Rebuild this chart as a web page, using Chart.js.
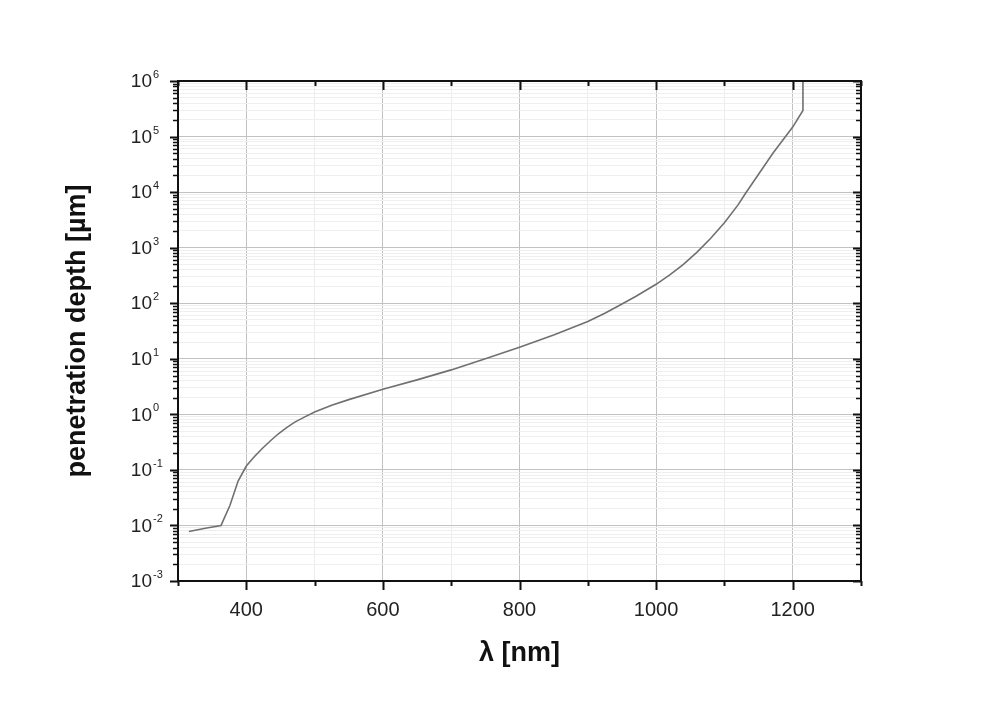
<!DOCTYPE html>
<html>
<head>
<meta charset="utf-8">
<script src="https://cdn.jsdelivr.net/npm/chart.js@4.4.1/dist/chart.umd.min.js"></script>
<style>
  html, body { margin: 0; padding: 0; background: #ffffff; }
  #wrap { width: 1004px; height: 716px; position: relative; }
</style>
</head>
<body>
<div id="wrap"><canvas id="c"></canvas></div>
<script>
// ---- data ----
const wavelengthNm = [316, 340, 363, 376, 388, 400, 412, 423, 435, 447, 459, 471, 485, 500, 525, 550, 600, 650, 700, 750, 800, 850, 900, 925, 946, 970, 1000, 1020, 1040, 1060, 1080, 1100, 1120, 1131, 1171, 1200, 1215, 1215];
const penetrationDepthUm = [0.00776, 0.00891, 0.0100, 0.0229, 0.0631, 0.1175, 0.174, 0.240, 0.331, 0.447, 0.575, 0.724, 0.891, 1.10, 1.46, 1.84, 2.82, 4.17, 6.31, 10.0, 16.2, 26.9, 46.8, 66.1, 91, 132, 219, 324, 501, 832, 1479, 2818, 5888, 9550, 50100, 148000, 295000, 1000000];

const xMin = 300, xMax = 1300, xStep = 100, xLabelEvery = 200;
const yDecadeExponents = [-3, -2, -1, 0, 1, 2, 3, 4, 5, 6];
const yMinorMultipliers = [2, 3, 4, 5, 6, 7, 8, 9];

const xTitle = 'λ [nm]';
const yTitle = 'penetration depth [µm]';

const FONT = "'Liberation Sans', Arial, Helvetica, sans-serif";

function isDecade(v) {
  const l = Math.log10(v);
  return Math.abs(l - Math.round(l)) < 1e-9;
}

const yTickValues = [];
yDecadeExponents.forEach((e, i) => {
  yTickValues.push(Math.pow(10, e));
  if (i < yDecadeExponents.length - 1) {
    yMinorMultipliers.forEach(m => yTickValues.push(m * Math.pow(10, e)));
  }
});

const framePlugin = {
  id: 'frame',
  afterDraw(chart) {
    const ctx = chart.ctx;
    const a = chart.chartArea;
    const xs = chart.scales.x, ys = chart.scales.y;
    ctx.save();
    ctx.strokeStyle = '#111';
    ctx.lineCap = 'butt';
    // x ticks: bottom outward, top inward
    xs.ticks.forEach(t => {
      const px = Math.round(xs.getPixelForValue(t.value)) + 0.5;
      const major = t.value % xLabelEvery === 0;
      const len = major ? 9 : 5;
      ctx.lineWidth = 2;
      ctx.beginPath();
      ctx.moveTo(px, a.bottom); ctx.lineTo(px, a.bottom + len);
      ctx.moveTo(px, a.top); ctx.lineTo(px, a.top + len);
      ctx.stroke();
    });
    // y ticks: left outward, right inward
    ys.ticks.forEach(t => {
      const py = Math.round(ys.getPixelForValue(t.value)) + 0.5;
      const major = isDecade(t.value);
      const len = major ? 8 : 5;
      ctx.lineWidth = major ? 2 : 1.5;
      ctx.beginPath();
      ctx.moveTo(a.left, py); ctx.lineTo(a.left - len, py);
      ctx.moveTo(a.right, py); ctx.lineTo(a.right - len, py);
      ctx.stroke();
    });
    // frame
    ctx.lineWidth = 2;
    ctx.strokeRect(a.left, a.top, a.right - a.left, a.bottom - a.top);
    // y tick labels 10^n
    ctx.fillStyle = '#222';
    yDecadeExponents.forEach(e => {
      const py = ys.getPixelForValue(Math.pow(10, e));
      const baseRight = a.left - 26;
      ctx.font = '19px ' + FONT;
      ctx.textAlign = 'right';
      ctx.textBaseline = 'middle';
      ctx.fillText('10', baseRight, py + 1);
      ctx.font = '11px ' + FONT;
      ctx.textAlign = 'left';
      ctx.fillText(e < 0 ? '-' + Math.abs(e) : String(e), baseRight + 1, py - 6);
    });
    ctx.restore();
  }
};

new Chart(document.getElementById('c'), {
  type: 'line',
  data: {
    datasets: [{
      data: wavelengthNm.map((x, i) => ({ x: x, y: penetrationDepthUm[i] })),
      borderColor: '#707070',
      borderWidth: 1.6,
      pointRadius: 0,
      fill: false,
      tension: 0
    }]
  },
  options: {
    responsive: true,
    maintainAspectRatio: false,
    animation: false,
    layout: { padding: { left: 57, right: 143, top: 81, bottom: 42 } },
    plugins: { legend: { display: false }, tooltip: { enabled: false } },
    scales: {
      x: {
        type: 'linear',
        min: xMin, max: xMax,
        afterFit(s) { s.height = 93; },
        ticks: {
          stepSize: xStep,
          autoSkip: false,
          maxRotation: 0,
          padding: 17,
          color: '#222',
          font: { size: 20, family: FONT },
          callback: v => (v % xLabelEvery === 0 ? String(v) : '')
        },
        grid: {
          drawTicks: false,
          color: c => (c.tick && c.tick.value % xLabelEvery === 0 ? '#c2c2c2' : '#ececec'),
          lineWidth: 1
        },
        border: { display: false },
        title: {
          display: true,
          text: xTitle,
          color: '#111',
          font: { size: 27, weight: 'bold', family: FONT },
          padding: { top: 4, bottom: 4 }
        }
      },
      y: {
        type: 'logarithmic',
        min: 1e-3, max: 1e6,
        afterBuildTicks(s) { s.ticks = yTickValues.map(v => ({ value: v, major: isDecade(v) })); },
        afterFit(s) { s.width = 121; },
        ticks: { display: false },
        grid: {
          drawTicks: false,
          color: c => (c.tick && isDecade(c.tick.value) ? '#c2c2c2' : '#efefef'),
          lineWidth: 1
        },
        border: { display: false },
        title: {
          display: true,
          text: yTitle,
          color: '#111',
          font: { size: 27, weight: 'bold', family: FONT },
          padding: { top: 4, bottom: 4 }
        }
      }
    }
  },
  plugins: [framePlugin]
});
</script>
</body>
</html>
